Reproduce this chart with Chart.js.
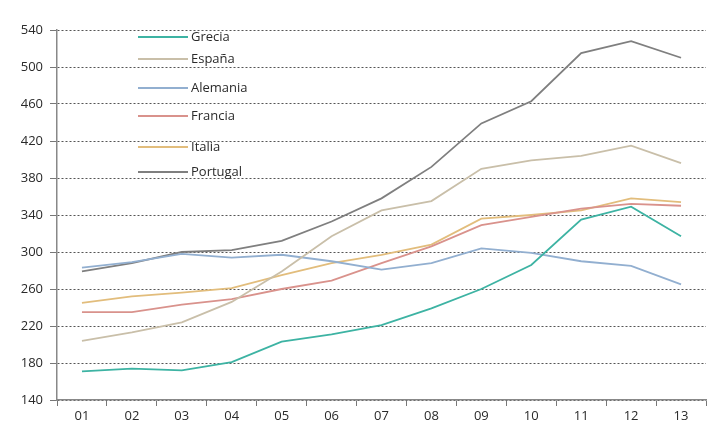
<!DOCTYPE html>
<html>
<head>
<meta charset="utf-8">
<script src="https://cdn.jsdelivr.net/npm/chart.js@4/dist/chart.umd.min.js"></script>
<style>
  html, body { margin: 0; padding: 0; background: #fff; }
  #wrap { width: 720px; height: 440px; }
</style>
</head>
<body>
<div id="wrap"><canvas id="chart" width="720" height="440"></canvas></div>
<script>
// Years (2001-2013) written as on the original axis
const years = ["01", "02", "03", "04", "05", "06", "07", "08", "09", "10", "11", "12", "13"];

const grecia = [171, 174, 172, 181, 203, 211, 221, 239, 260, 286, 335, 349, 317];
const espana = [204, 213, 224, 246, 279, 317, 345, 355, 390, 399, 404, 415, 396];
const alemania = [283, 289, 298, 294, 297, 290, 281, 288, 304, 299, 290, 285, 265];
const francia = [235, 235, 243, 249, 260, 269, 288, 306, 329, 338, 347, 352, 350];
const italia = [245, 252, 256, 261, 275, 288, 297, 308, 336, 340, 345, 358, 354];
const portugal = [279, 288, 300, 302, 312, 333, 358, 392, 439, 463, 515, 528, 510];

const yTicks = [140, 180, 220, 260, 300, 340, 380, 420, 460, 500, 540];

const series = [
  { label: "Grecia", data: grecia, color: "#3db3a3" },
  { label: "España", data: espana, color: "#c9bfa9" },
  { label: "Alemania", data: alemania, color: "#92afd0" },
  { label: "Francia", data: francia, color: "#d9928c" },
  { label: "Italia", data: italia, color: "#e2bd7c" },
  { label: "Portugal", data: portugal, color: "#7f7f7f" }
];

// legend rows sit at uneven heights in the original
const legendRows = [37, 59, 88, 116, 147, 172];

const legendPlugin = {
  id: "insideLegend",
  afterDraw(chart) {
    const ctx = chart.ctx;
    ctx.save();
    ctx.font = "13px 'Open Sans'";
    ctx.textBaseline = "middle";
    series.forEach((s, i) => {
      const y = legendRows[i];
      ctx.strokeStyle = s.color;
      ctx.lineWidth = 2;
      ctx.beginPath();
      ctx.moveTo(138, y);
      ctx.lineTo(188, y);
      ctx.stroke();
      ctx.fillStyle = "#2a2a2a";
      ctx.fillText(s.label, 191, y);
    });
    ctx.restore();
  }
};

new Chart(document.getElementById("chart"), {
  type: "line",
  data: {
    labels: years,
    datasets: series.map((s) => ({
      label: s.label,
      data: s.data,
      borderColor: s.color,
      backgroundColor: s.color,
      borderWidth: 1.8,
      pointRadius: 0,
      tension: 0
    }))
  },
  options: {
    responsive: false,
    animation: false,
    layout: { padding: { top: 30, right: 14, bottom: 0, left: 0 } },
    plugins: {
      legend: { display: false },
      tooltip: { enabled: false }
    },
    scales: {
      x: {
        offset: true,
        afterFit: (scale) => { scale.height = 40; },
        grid: {
          offset: true,
          drawOnChartArea: false,
          drawTicks: true,
          tickLength: 6,
          color: "#777"
        },
        border: { color: "#888", width: 1.5 },
        ticks: {
          color: "#2a2a2a",
          padding: 2,
          font: { family: "'Open Sans'", size: 13 }
        }
      },
      y: {
        min: 140,
        max: 540,
        afterFit: (scale) => { scale.width = 57; },
        afterBuildTicks: (scale) => { scale.ticks = yTicks.map((v) => ({ value: v })); },
        grid: {
          color: "#555",
          lineWidth: 1,
          tickLength: 7,
          tickColor: "#777",
          tickBorderDash: []
        },
        border: { color: "#888", width: 1.5, dash: [2, 2] },
        ticks: {
          color: "#2a2a2a",
          padding: 7,
          font: { family: "'Open Sans'", size: 13 }
        }
      }
    }
  },
  plugins: [legendPlugin]
});
</script>
</body>
</html>
